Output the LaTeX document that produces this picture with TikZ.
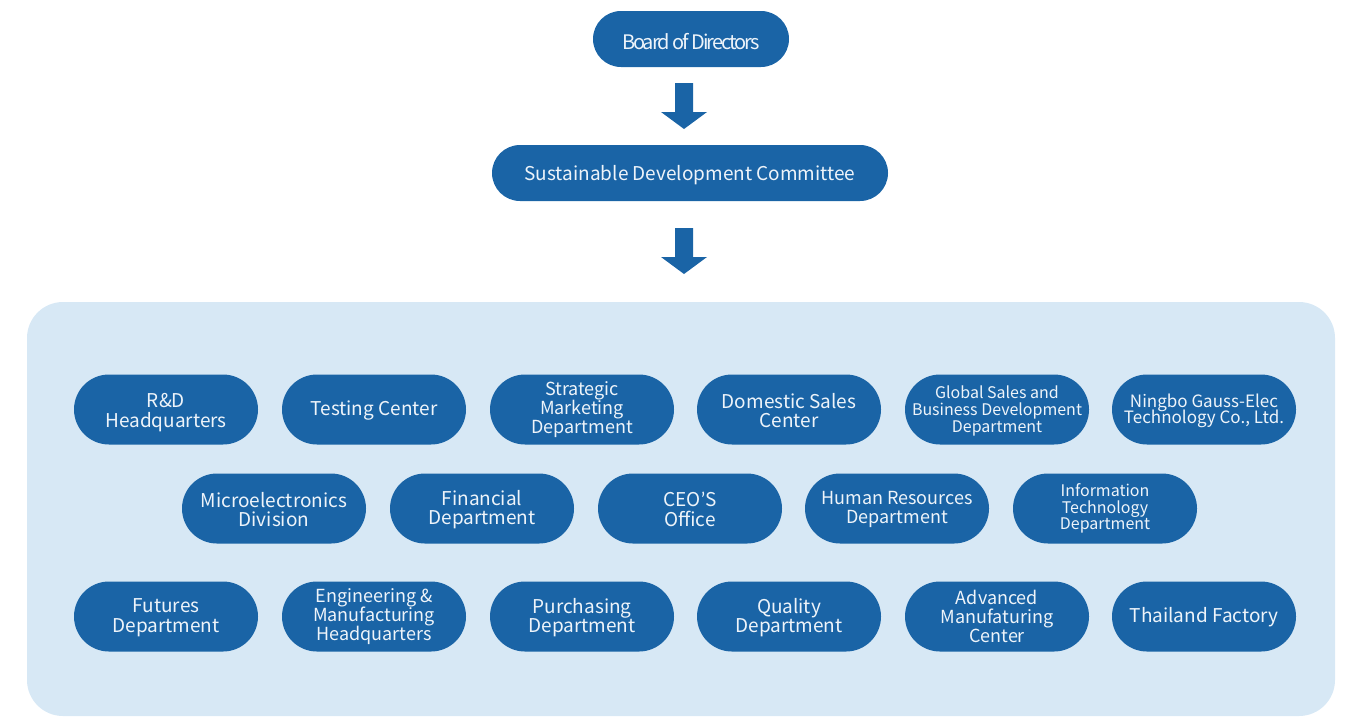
\documentclass[tikz,border=0pt]{standalone}
\usepackage{fontspec}
\setmainfont{Noto Sans CJK SC}
\newfontfamily\boardfont[LetterSpace=-10]{Noto Sans CJK SC}
\newfontfamily\latinfont{Lato}
\usetikzlibrary{shapes.misc}
\definecolor{nodeblue}{RGB}{26,100,166}
\definecolor{panelblue}{RGB}{215,232,245}
\definecolor{nodetext}{RGB}{238,244,250}
\lineskiplimit=-100pt
\tikzset{
  unit/.style={rounded rectangle, fill=nodeblue, inner sep=0pt,
    minimum width=184pt, minimum height=70pt},
  utext/.style={text=nodetext, inner sep=0pt, align=center,
    font=\fontsize{19}{19.5}\selectfont},
  small/.style={font=\fontsize{16}{16.6}\selectfont},
  mid/.style={font=\fontsize{18}{18.8}\selectfont},
  top/.style={rounded rectangle, fill=nodeblue, inner sep=0pt, minimum height=56pt},
  blockarrow/.pic={
    \fill[nodeblue] (-9,0) -- (9,0) -- (9,29) -- (23,29) -- (0,46) -- (-23,29) -- (-9,29) -- cycle;
  }
}
% #1 downward text shift, #2 name, #3 position, #4 text style, #5 text
\newcommand\unitnode[5][1pt]{%
  \node[unit] (#2) at #3 {};
  \node[utext,#4,yshift=-#1] (#2-t) at (#2) {#5};}
\begin{document}
\begin{tikzpicture}[x=1pt,y=-1pt]
\useasboundingbox (0,0) rectangle (1351,716);
\fill[panelblue, rounded corners=36pt] (27,302) rectangle (1335,716);

\node[top, minimum width=196pt] (board) at (691,39) {};
\node[utext, font=\boardfont\fontsize{20}{20}\selectfont, yshift=-3pt] (board-t) at (board) {Board of Directors};
\node[top, minimum width=396pt] (sdc) at (690,173) {};
\node[utext, yshift=-2.5pt] (sdc-t) at (sdc) {Sustainable Development Committee};

\coordinate (a1) at (684,83);
\coordinate (a2) at (684,228);
\pic at (a1) {blockarrow};
\pic at (a2) {blockarrow};

% row 1
\unitnode[3pt]{rd}{(166,409.5)}{font=\fontsize{19}{20}\selectfont}{R\&D\\Headquarters}
\unitnode[1pt]{test}{(374,409.5)}{}{Testing Center}
\unitnode[0pt]{strat}{(582,409.5)}{mid}{Strategic\\Marketing\\Department}
\unitnode[1pt]{dom}{(789,409.5)}{}{Domestic Sales\\Center}
\unitnode[1.5pt]{glob}{(997,409.5)}{small}{Global Sales and\\Business Development\\Department}
\unitnode[1.5pt]{ning}{(1204,409.5)}{font=\fontsize{17}{16}\selectfont}{Ningbo Gauss-Elec\\Technology Co., Ltd.}

% row 2
\unitnode[1pt]{micro}{(274,508.5)}{}{Microelectronics\\Division}
\unitnode[1pt]{fin}{(482,508.5)}{}{Financial\\Department}
\unitnode[1pt]{ceo}{(690,508.5)}{}{CEO{\latinfont ’}S\\Office}
\unitnode[1pt]{hr}{(897,508.5)}{mid}{Human Resources\\Department}
\unitnode[0pt]{it}{(1105,508.5)}{small}{Information\\Technology\\Department}

% row 3
\unitnode[1pt]{fut}{(166,616.5)}{}{Futures\\Department}
\unitnode[0.5pt]{eng}{(374,616.5)}{font=\fontsize{18}{19}\selectfont}{Engineering \&\\Manufacturing\\Headquarters}
\unitnode[1pt]{pur}{(582,616.5)}{}{Purchasing\\Department}
\unitnode[1pt]{qual}{(789,616.5)}{}{Quality\\Department}
\unitnode[0pt]{adv}{(997,616.5)}{mid}{Advanced\\Manufaturing\\Center}
\unitnode[1pt]{thai}{(1204,616.5)}{}{Thailand Factory}
\end{tikzpicture}
\end{document}
